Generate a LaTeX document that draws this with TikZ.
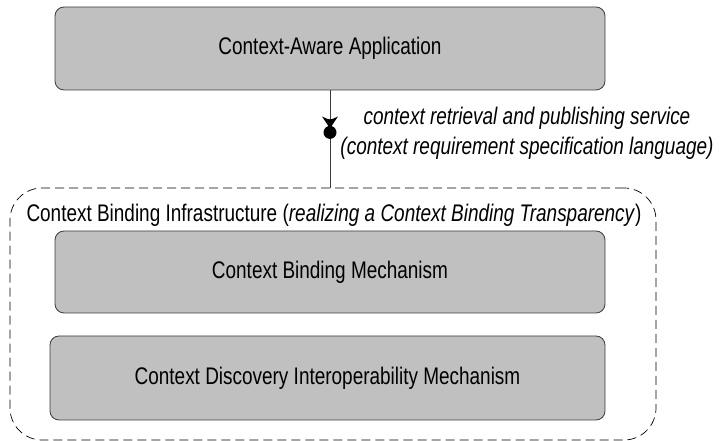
\documentclass[tikz,border=0pt]{standalone}
\usepackage{fontspec}
\setmainfont[FakeStretch=0.79]{Liberation Sans}
\usepackage{tikz}
\usetikzlibrary{calc}
\definecolor{boxgray}{RGB}{192,192,192}
\definecolor{edgegray}{RGB}{60,60,60}
\tikzset{
	x=1pt, y=1pt,
	layerbox/.style={draw=edgegray, line width=0.8pt, fill=boxgray, rounded corners=9pt,
		inner sep=0pt, font=\fontsize{24}{28}\selectfont},
	infrabox/.style={draw=black, line width=0.7pt, dash pattern=on 9pt off 5pt,
		rounded corners=32pt, inner sep=0pt},
	servicelabel/.style={font=\fontsize{24}{30}\selectfont\itshape, align=center, inner sep=0pt}
}

\begin{document}
\begin{tikzpicture}
			%%%%% START %%%%%
			\useasboundingbox (0, 0) rectangle (720, 441);
			
			\node[layerbox, minimum width=550, minimum height=83] (app) at (330, 392.5) {Context-Aware Application};
			
			\node[infrabox, minimum width=646, minimum height=252] (infra) at (333, 127) {};
			\node[inner sep=0pt, font=\fontsize{24}{28}\selectfont] (infralabel) at (334, 226)
				{Context Binding Infrastructure (\textit{realizing a Context Binding Transparency})};
			
			\node[layerbox, minimum width=550, minimum height=82] (binding) at (330, 169) {Context Binding Mechanism};
			\node[layerbox, minimum width=555, minimum height=84] (discovery) at (327.5, 63) {Context Discovery Interoperability Mechanism};
			
			% service connector
			\draw[line width=0.8pt, color=edgegray] (app.south) -- (app.south |- infra.north);
			\coordinate (socket) at ($(app.south) + (0, -26)$);
			\fill[black] ($(socket) + (-8, 0)$) .. controls ($(socket) + (0, -4)$) .. ($(socket) + (8, 0)$) -- ($(socket) + (0, -12)$) -- cycle;
			\fill[black] ($(socket) + (0, -16)$) circle (6.5);
			
			\node[servicelabel] (service) at (527, 308) {context retrieval and publishing service\\(context requirement specification language)};
			
			%%%%% END %%%%%
\end{tikzpicture}
\end{document}
